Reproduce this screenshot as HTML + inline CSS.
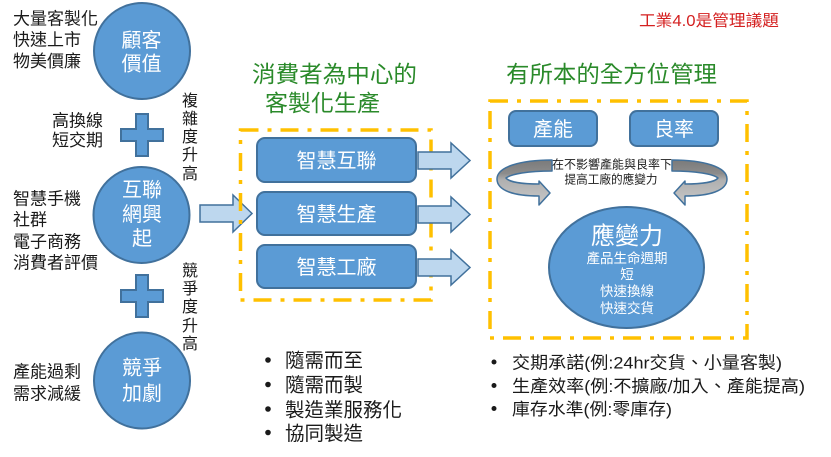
<!DOCTYPE html>
<html>
<head>
<meta charset="utf-8">
<style>
html,body{margin:0;padding:0;background:#fff;}
svg{display:block;}
text{font-family:"Liberation Sans","Noto Sans CJK TC",sans-serif;}
.k{fill:#1a1a1a;}
.w{fill:#fff;}
.g{fill:#2a8a2a;}
</style>
</head>
<body>
<svg width="831" height="457" viewBox="0 0 831 457" xmlns="http://www.w3.org/2000/svg">
<defs>
<linearGradient id="gr" x1="0" y1="0" x2="0" y2="1">
<stop offset="0" stop-color="#7a7a7a"/>
<stop offset="0.3" stop-color="#8c8c8c"/>
<stop offset="0.45" stop-color="#b0b0b0"/>
<stop offset="1" stop-color="#c8c8c8"/>
</linearGradient>
</defs>

<!-- title red -->
<text x="639" y="26" font-size="16" fill="#d42020" textLength="140" lengthAdjust="spacingAndGlyphs">工業4.0是管理議題</text>

<!-- left column texts -->
<g class="k" font-size="17">
<text x="13" y="24.5">大量客製化</text>
<text x="13" y="45.5">快速上市</text>
<text x="13" y="67">物美價廉</text>
<text x="52" y="126.5">高換線</text>
<text x="52" y="146">短交期</text>
<text x="13" y="204.5">智慧手機</text>
<text x="13" y="225.5">社群</text>
<text x="13" y="247.5">電子商務</text>
<text x="13" y="268.5">消費者評價</text>
<text x="13" y="377.5">產能過剩</text>
<text x="13" y="399.5">需求減緩</text>
</g>
<g class="k" font-size="16" text-anchor="middle">
<text x="190" y="106">複</text>
<text x="190" y="124">雜</text>
<text x="190" y="142">度</text>
<text x="190" y="160">升</text>
<text x="190" y="179">高</text>
<text x="190" y="276">競</text>
<text x="190" y="294">爭</text>
<text x="190" y="312">度</text>
<text x="190" y="331">升</text>
<text x="190" y="349">高</text>
</g>

<!-- circles -->
<g fill="#5b9bd5" stroke="#41719c" stroke-width="2">
<circle cx="142" cy="51" r="48"/>
<circle cx="141.5" cy="215" r="48"/>
<circle cx="142" cy="380.5" r="48"/>
<path d="M136,114 h12 v15 h15 v12 h-15 v15 h-12 v-15 h-15 v-12 h15 z"/>
<path d="M136,275 h12 v15 h15 v12 h-15 v15 h-12 v-15 h-15 v-12 h15 z"/>
</g>
<g class="w" font-size="20" text-anchor="middle">
<text x="141.5" y="47">顧客</text>
<text x="141.5" y="70.5">價值</text>
<text x="142" y="196.5">互聯</text>
<text x="142" y="221">網興</text>
<text x="142" y="245">起</text>
<text x="142" y="374.5">競爭</text>
<text x="142" y="400">加劇</text>
</g>

<!-- big arrow from circle -->
<path d="M200,205 H233 V195 L252,213.5 L233,232 V222 H200 Z" fill="#bdd7ee" stroke="#41719c" stroke-width="1.5"/>

<!-- green titles -->
<g class="g" font-size="23">
<text x="252" y="82" textLength="165" lengthAdjust="spacingAndGlyphs">消費者為中心的</text>
<text x="265" y="111" textLength="115" lengthAdjust="spacingAndGlyphs">客製化生產</text>
<text x="506" y="82" textLength="211" lengthAdjust="spacingAndGlyphs">有所本的全方位管理</text>
</g>

<!-- dashed boxes -->
<g fill="none" stroke="#ffc000" stroke-width="3.5" stroke-dasharray="18 9 4 9">
<rect x="240.5" y="130" width="190.5" height="170"/>
<rect x="490" y="101" width="257" height="237"/>
</g>

<!-- middle boxes -->
<g fill="#5b9bd5" stroke="#41719c" stroke-width="2">
<rect x="257" y="138" width="159" height="44" rx="8"/>
<rect x="257" y="192" width="159" height="43" rx="8"/>
<rect x="257" y="245" width="159" height="43" rx="8"/>
<rect x="509" y="111" width="88" height="35" rx="7"/>
<rect x="630" y="111" width="88" height="35" rx="7"/>
<ellipse cx="626.5" cy="267.5" rx="77.5" ry="60.5"/>
</g>
<g class="w" font-size="20" text-anchor="middle">
<text x="336.5" y="167.5">智慧互聯</text>
<text x="336.5" y="221">智慧生產</text>
<text x="336.5" y="274">智慧工廠</text>
<text x="553" y="136">產能</text>
<text x="674" y="136">良率</text>
</g>

<!-- small right arrows -->
<g fill="#bdd7ee" stroke="#41719c" stroke-width="1.5">
<path d="M418,152 H451 V143 L470,160.5 L451,178 V169 H418 Z"/>
<path d="M418,206 H451 V197 L470,214.5 L451,232 V223 H418 Z"/>
<path d="M418,259 H451 V250 L470,267.5 L451,285 V276 H418 Z"/>
</g>

<!-- curved arrows -->
<g fill="url(#gr)" stroke="#41719c" stroke-width="1.5" stroke-linejoin="round">
<path d="M552,160 C520,160 497,167 497,179 C497,191 515,196 539,196 L539,205 L550,193 L539,181 L539,184 C522,184 509,182 506,178 C511,174 528,171 552,171 Z"/>
<path transform="translate(1224,0) scale(-1,1)" d="M552,160 C520,160 497,167 497,179 C497,191 515,196 539,196 L539,205 L550,193 L539,181 L539,184 C522,184 509,182 506,178 C511,174 528,171 552,171 Z"/>
</g>
<g class="k" font-size="12" text-anchor="middle">
<text x="612" y="168.5" textLength="120" lengthAdjust="spacingAndGlyphs">在不影響產能與良率下</text>
<text x="611" y="183.5" textLength="93" lengthAdjust="spacingAndGlyphs">提高工廠的應變力</text>
</g>

<!-- ellipse text -->
<g class="w" text-anchor="middle">
<text x="627" y="244" font-size="24">應變力</text>
<text x="627" y="263" font-size="13.5">產品生命週期</text>
<text x="627" y="279" font-size="13.5">短</text>
<text x="627" y="296" font-size="13.5">快速換線</text>
<text x="627" y="313" font-size="13.5">快速交貨</text>
</g>

<!-- bullets -->
<g fill="#1a1a1a">
<circle cx="268" cy="360" r="2.8"/>
<circle cx="268" cy="384.5" r="2.8"/>
<circle cx="268" cy="409" r="2.8"/>
<circle cx="268" cy="432.5" r="2.8"/>
<circle cx="494" cy="362" r="2.5"/>
<circle cx="494" cy="385.5" r="2.5"/>
<circle cx="494" cy="408.5" r="2.5"/>
</g>
<g class="k" font-size="19.5">
<text x="285" y="367">隨需而至</text>
<text x="285" y="391.5">隨需而製</text>
<text x="285" y="416.5">製造業服務化</text>
<text x="285" y="440">協同製造</text>
</g>
<g class="k" font-size="17">
<text x="512" y="368.5" textLength="270" lengthAdjust="spacingAndGlyphs">交期承諾(例:24hr交貨、小量客製)</text>
<text x="512" y="392" textLength="293" lengthAdjust="spacingAndGlyphs">生產效率(例:不擴廠/加入、產能提高)</text>
<text x="512" y="415" textLength="160" lengthAdjust="spacingAndGlyphs">庫存水準(例:零庫存)</text>
</g>
</svg>
</body>
</html>
